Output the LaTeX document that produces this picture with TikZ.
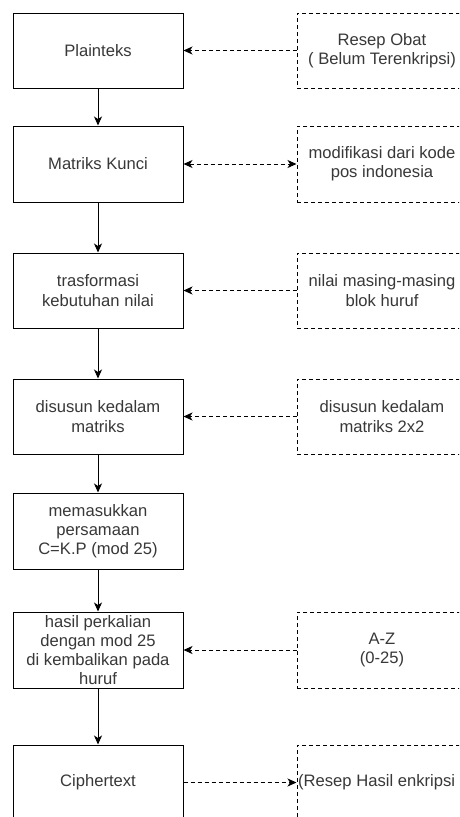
\documentclass[tikz,border=0pt]{standalone}
\usepackage{fontspec}
\setmainfont{Liberation Sans}
\usetikzlibrary{arrows.meta}
\begin{document}
\begin{tikzpicture}[x=1pt,y=-1pt,
  every node/.style={font=\fontsize{16.6}{19.2}\selectfont, text=black!78},
  stepbox/.style={draw=black, line width=1pt, minimum width=170pt, minimum height=75pt, inner sep=0pt, align=center},
  notebox/.style={stepbox, dash pattern=on 4pt off 3pt},
  flow/.style={draw=black, line width=1pt, -{Stealth[length=9pt,width=8pt,inset=2.5pt]}},
  dflow/.style={flow, dash pattern=on 4pt off 3pt}
]
\clip (0,0) rectangle (459,817);
\fill[white] (0,0) rectangle (459,817);

\node[stepbox] (l1) at (98,50.5) {Plainteks};
\node[stepbox, minimum height=76pt] (l2) at (98,164) {Matriks Kunci};
\node[stepbox] (l3) at (98,290.5) {trasformasi\\kebutuhan nilai};
\node[stepbox] (l4) at (98,416.5) {disusun kedalam\\matriks};
\node[stepbox, minimum height=76pt] (l5) at (98,531) {memasukkan\\persamaan\\C=K.P (mod 25)};
\node[stepbox, minimum height=76pt] (l6) at (98,650) {hasil perkalian\\dengan mod 25\\di kembalikan pada\\huruf};
\node[stepbox] (l7) at (98,782.5) {Ciphertext};

\node[notebox] (r1) at (382,50.5) {Resep Obat\\( Belum Terenkripsi)};
\node[notebox, minimum height=76pt] (r2) at (382,164) {modifikasi dari kode\\pos indonesia};
\node[notebox] (r3) at (382,290.5) {nilai masing-masing\\blok huruf};
\node[notebox] (r4) at (382,416.5) {disusun kedalam\\matriks 2x2};
\node[notebox, minimum height=76pt] (r6) at (382,650) {A-Z\\(0-25)};
\node[notebox] (r7) at (382,782.5) {};
\node[anchor=west, inner sep=0pt] (t7) at (298,782.5) {(Resep Hasil enkripsi};

\draw[flow] (l1) -- (l2);
\draw[flow] (l2) -- (l3);
\draw[flow] (l3) -- (l4);
\draw[flow] (l4) -- (l5);
\draw[flow] (l5) -- (l6);
\draw[flow] (l6) -- (l7);

\draw[dflow] (r1) -- (l1);
\draw[dflow, {Stealth[length=9pt,width=8pt,inset=2.5pt]}-{Stealth[length=9pt,width=8pt,inset=2.5pt]}] (l2) -- (r2);
\draw[dflow] (r3) -- (l3);
\draw[dflow] (r4) -- (l4);
\draw[dflow] (r6) -- (l6);
\draw[dflow] (l7) -- (r7);
\end{tikzpicture}
\end{document}
